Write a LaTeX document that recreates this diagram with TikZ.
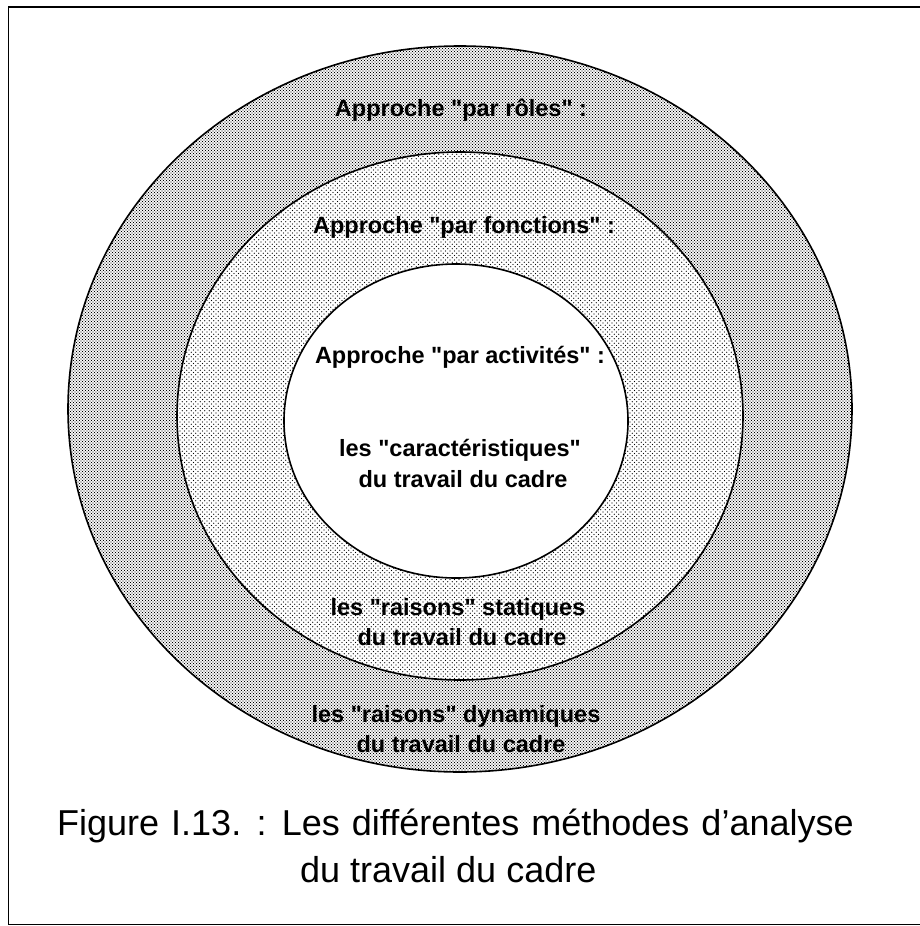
\documentclass[tikz,border=0pt]{standalone}
\usepackage{fontspec}
\setmainfont{Liberation Sans}
\usetikzlibrary{shapes.geometric,patterns}

% dense halftone for the outer ring
\pgfdeclarepatternformonly{halftone}{\pgfqpoint{-1pt}{-1pt}}{\pgfqpoint{4pt}{4pt}}{\pgfqpoint{3pt}{3pt}}{%
  \pgfpathcircle{\pgfqpoint{0pt}{0pt}}{0.7pt}%
  \pgfpathcircle{\pgfqpoint{1.5pt}{1.5pt}}{0.7pt}%
  \pgfusepath{fill}}
% light stipple for the middle ring
\pgfdeclarepatternformonly{stipple}{\pgfqpoint{-1pt}{-1pt}}{\pgfqpoint{5.5pt}{5.5pt}}{\pgfqpoint{4.5pt}{4.5pt}}{%
  \pgfpathcircle{\pgfqpoint{0pt}{0pt}}{0.55pt}%
  \pgfpathcircle{\pgfqpoint{2.25pt}{2.25pt}}{0.55pt}%
  \pgfusepath{fill}}

% straight typewriter quotes
\newcommand{\dq}{\textquotedbl}

\tikzset{
  ring/.style={ellipse, draw, line width=1.6pt, inner sep=0pt},
  ringtext/.style={anchor=base, inner sep=0pt,
    font=\fontsize{23.5}{28}\selectfont\bfseries},
  caption/.style={anchor=base west, inner sep=0pt,
    font=\fontsize{36}{42}\selectfont},
}

\begin{document}
\begin{tikzpicture}[x=1pt, y=-1pt]
  \useasboundingbox (0,0) rectangle (920,926);

  % frame (open on the right)
  \draw[line width=1.6pt] (925,7) -- (8.5,7) -- (8.5,924.5) -- (925,924.5);

  % the three concentric approaches
  \node[ring, pattern=halftone, minimum width=784pt, minimum height=726pt] (roles) at (460,409) {};
  \node[ring, preaction={fill=white}, pattern=stipple, minimum width=566pt, minimum height=528pt] (fonctions) at (460,416) {};
  \node[ring, fill=white, minimum width=344pt, minimum height=314pt] (activites) at (456,421) {};

  % outer ring
  \node[ringtext] (t1) at (461,116) {Approche \dq par rôles\dq\ :};
  \node[ringtext] (t2) at (456,722) {les \dq raisons\dq\ dynamiques};
  \node[ringtext] (t3) at (461,752) {du travail du cadre};

  % middle ring
  \node[ringtext] (t4) at (464,233) {Approche \dq par fonctions\dq\ :};
  \node[ringtext] (t5) at (458,615) {les \dq raisons\dq\ statiques};
  \node[ringtext] (t6) at (462,645) {du travail du cadre};

  % inner disc
  \node[ringtext] (t7) at (460,363) {Approche \dq par activités\dq\ :};
  \node[ringtext] (t8) at (460,456) {les \dq caractéristiques\dq};
  \node[ringtext] (t9) at (463,487) {du travail du cadre};

  % caption
  \node[caption] (c1) at (57,835) {\spaceskip=12pt Figure I.13. : Les différentes méthodes d’analyse};
  \node[caption] (c2) at (300,882) {du travail du cadre};
\end{tikzpicture}
\end{document}
